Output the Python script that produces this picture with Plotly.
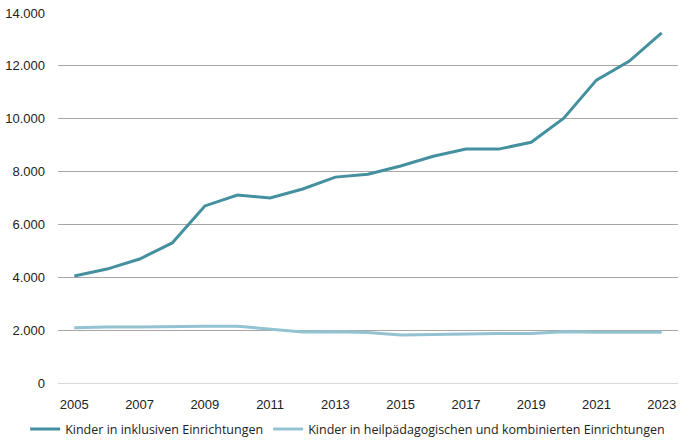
import plotly.graph_objects as go

years = list(range(2005, 2024))
inklusiv = [4050, 4310, 4690, 5300, 6700, 7110, 7000, 7340, 7790, 7900,
            8210, 8580, 8850, 8850, 9110, 10020, 11460, 12170, 13250]
heilpaed = [2090, 2120, 2120, 2140, 2150, 2150, 2050, 1930, 1940, 1910,
            1820, 1840, 1860, 1870, 1870, 1940, 1920, 1920, 1920]
x_ticks = list(range(2005, 2024, 2))
y_ticks = list(range(0, 14001, 2000))

fig = go.Figure()
fig.add_trace(go.Scatter(x=years, y=inklusiv, mode="lines",
                         name="Kinder in inklusiven Einrichtungen",
                         line=dict(color="#44909f", width=3)))
fig.add_trace(go.Scatter(x=years, y=heilpaed, mode="lines",
                         name="Kinder in heilpädagogischen und kombinierten Einrichtungen",
                         line=dict(color="#93c3d3", width=3)))

fig.update_layout(
    width=690, height=445,
    margin=dict(l=58, r=12, t=13, b=62, autoexpand=False),
    paper_bgcolor="white", plot_bgcolor="white",
    separators=",.",
    font=dict(family="Liberation Sans, Arial, sans-serif", size=13, color="#222222"),
    showlegend=True,
    legend=dict(orientation="h", x=-0.053, xanchor="left", y=-0.085, yanchor="top",
                font=dict(family="Open Sans, sans-serif", size=12.5, color="#222222"),
                itemwidth=30, tracegroupgap=0, traceorder="normal"),
    xaxis=dict(range=[2004.5, 2023.5], tickvals=x_ticks, showgrid=False,
               zeroline=False, showline=False, ticks="", ticklabelstandoff=12,
               tickfont=dict(size=13), automargin=False),
    yaxis=dict(range=[0, 14000], tickvals=y_ticks, tickformat=",d",
               gridcolor="#a6a6a6", gridwidth=1, zeroline=True,
               zerolinecolor="#d9d9d9", zerolinewidth=1, ticks="",
               ticklabelstandoff=12, tickfont=dict(size=13), automargin=False),
)

fig.write_html("out.html", config={"displayModeBar": False},
               post_script="document.body.style.margin='0';document.body.style.overflow='hidden';")
